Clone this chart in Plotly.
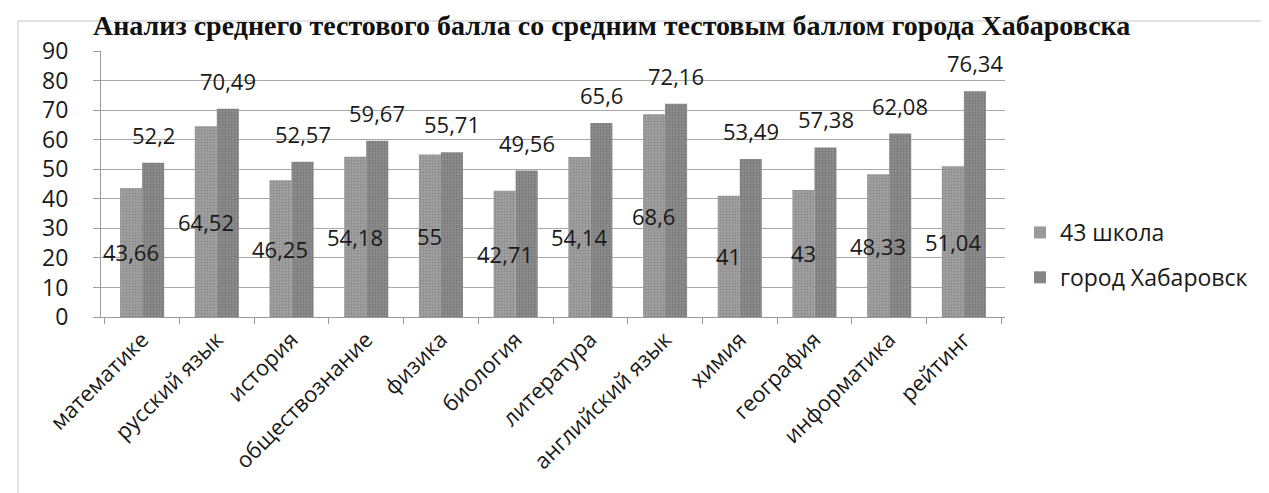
import plotly.graph_objects as go

categories = ["математике", "русский язык", "история", "обществознание", "физика",
              "биология", "литература", "английский язык", "химия", "география",
              "информатика", "рейтинг"]
school = [43.66, 64.52, 46.25, 54.18, 55, 42.71, 54.14, 68.6, 41, 43, 48.33, 51.04]
city = [52.2, 70.49, 52.57, 59.67, 55.71, 49.56, 65.6, 72.16, 53.49, 57.38, 62.08, 76.34]
school_labels = ["43,66", "64,52", "46,25", "54,18", "55", "42,71", "54,14", "68,6", "41", "43", "48,33", "51,04"]
city_labels = ["52,2", "70,49", "52,57", "59,67", "55,71", "49,56", "65,6", "72,16", "53,49", "57,38", "62,08", "76,34"]
series_names = ["43 школа", "город Хабаровск"]
y_ticks = [0, 10, 20, 30, 40, 50, 60, 70, 80, 90]
title_text = "Анализ среднего тестового балла со средним тестовым баллом города Хабаровска"

W, H = 1269, 493
ML, MR, MT, MB = 93, 272, 43, 184
plot_w = W - ML - MR
plot_h = H - MT - MB
BARGAP = 0.41
cat_px = plot_w / len(categories)
bar_px = cat_px * (1 - BARGAP) / 2

FONT = "Open Sans, Lato, DejaVu Sans, sans-serif"
TXT = "#1a1a1a"
FS = 22

fig = go.Figure()
fig.add_trace(go.Bar(
    x=categories, y=school, name=series_names[0], legendgroup="a",
    marker=dict(color="#a0a0a0", line=dict(width=0),
                pattern=dict(shape=".", fgcolor="#727272", size=3, solidity=0.3)),
))
fig.add_trace(go.Bar(
    x=categories, y=city, name=series_names[1], legendgroup="b",
    marker=dict(color="#8c8c8c", line=dict(width=0),
                pattern=dict(shape=".", fgcolor="#606060", size=3, solidity=0.3)),
))

annotations = []
for c, v, t in zip(categories, school, school_labels):
    annotations.append(dict(x=c, y=v / 2, text=t, showarrow=False, xref="x", yref="y",
                            xshift=-bar_px / 2, yanchor="middle", xanchor="center",
                            font=dict(family=FONT, size=FS, color=TXT)))
for c, v, t in zip(categories, city, city_labels):
    annotations.append(dict(x=c, y=v, text=t, showarrow=False, xref="x", yref="y",
                            xshift=bar_px / 2, yshift=28, yanchor="middle", xanchor="center",
                            font=dict(family=FONT, size=FS, color=TXT)))

# title (kept inside the picture, clear of the axis labels)
annotations.append(dict(x=(603 - ML) / plot_w, y=(plot_h + MT) / plot_h, xref="paper", yref="paper",
                        text="<b>" + title_text + "</b>", showarrow=False,
                        xanchor="center", yanchor="top", yshift=0,
                        font=dict(family="Liberation Serif, Times New Roman, serif", size=28, color="#111")))

shapes = [dict(type="rect", xref="paper", yref="paper",
               x0=(10 - ML) / plot_w, x1=(W + 20 - ML) / plot_w,
               y0=-(MB + 20) / plot_h, y1=(plot_h + MT - 13) / plot_h,
               line=dict(color="#c4c4c4", width=1), layer="below")]

fig.update_layout(
    width=W, height=H,
    margin=dict(l=ML, r=MR, t=MT, b=MB),
    paper_bgcolor="white", plot_bgcolor="white",
    barmode="group", bargap=BARGAP, bargroupgap=0,
    font=dict(family=FONT, size=FS, color=TXT),
    annotations=annotations, shapes=shapes,
    showlegend=True,
    legend=dict(x=(1012 - ML) / plot_w, xanchor="left", y=(plot_h + MT - 203) / plot_h, yanchor="top",
                font=dict(family=FONT, size=FS + 1, color=TXT), tracegroupgap=12,
                bgcolor="rgba(0,0,0,0)", itemwidth=30),
)
fig.update_xaxes(type="category", showline=True, linecolor="#9a9a9a", linewidth=1,
                 ticks="outside", ticklen=6, tickcolor="#9a9a9a", tickson="boundaries",
                 tickangle=-45, tickfont=dict(family=FONT, size=FS, color=TXT),
                 showgrid=False, ticklabelstandoff=0)
fig.update_yaxes(range=[0, 90], tickvals=y_ticks, showline=True, linecolor="#9a9a9a", linewidth=1,
                 ticks="outside", ticklen=7, tickcolor="#9a9a9a",
                 showgrid=True, gridcolor="#a8a8a8", gridwidth=1, zeroline=False,
                 tickfont=dict(family=FONT, size=FS + 1, color=TXT), ticklabelstandoff=20)

fig.write_html("out.html")
